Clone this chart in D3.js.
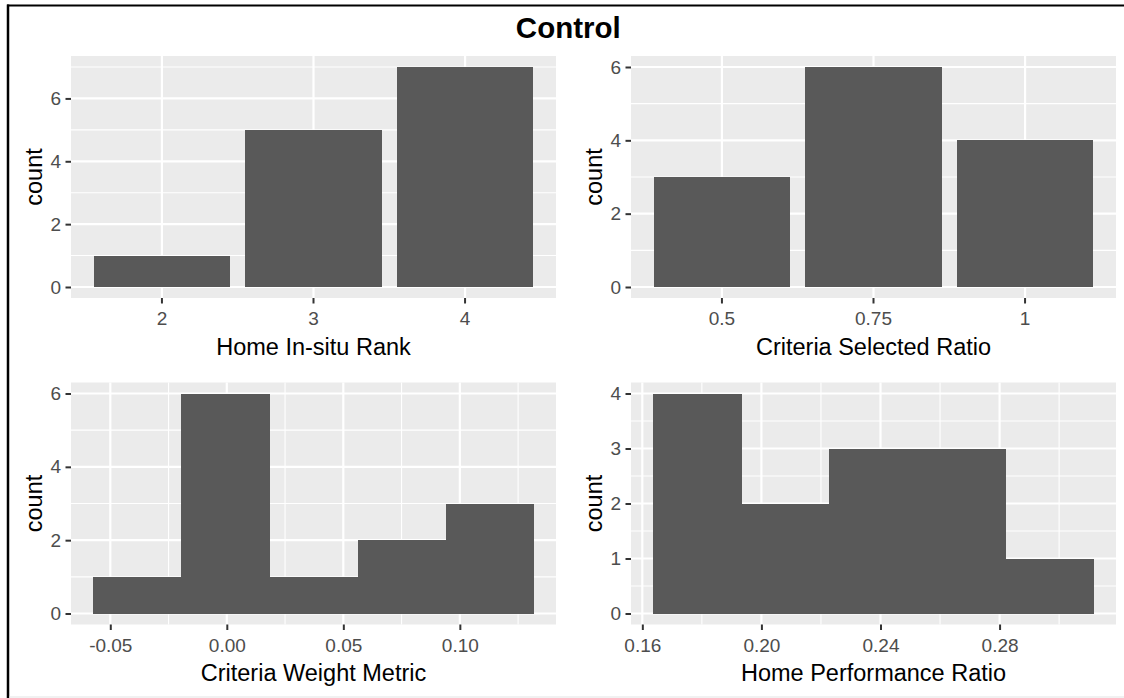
<!DOCTYPE html>
<html>
<head>
<meta charset="utf-8">
<script src="https://cdn.jsdelivr.net/npm/d3@7"></script>
<style>
  body { margin: 0; background: #fff; }
  svg { display: block; font-family: "Liberation Sans", Arial, sans-serif; }
</style>
</head>
<body>
<div id="chart"></div>
<script>
////////////////////////////////////////////////////////////////////////
// Data

let title = "Control";

// top left: bar chart of a discrete value
let rankCats = ["2", "3", "4"];
let rankCounts = [1, 5, 7];

// top right: bar chart of a discrete value
let selectedCats = ["0.5", "0.75", "1"];
let selectedCounts = [3, 6, 4];

// bottom left: histogram, bin edges and counts
let weightEdges = [-0.0574, -0.0196, 0.0183, 0.0561, 0.0939, 0.1318];
let weightCounts = [1, 6, 1, 2, 3];
let weightTicks = [-0.05, 0, 0.05, 0.10];
let weightTickLabels = ["-0.05", "0.00", "0.05", "0.10"];

// bottom right: histogram, bin edges and counts
let perfEdges = [0.1636, 0.1932, 0.2228, 0.2525, 0.2821, 0.3117];
let perfCounts = [4, 2, 3, 3, 1];
let perfTicks = [0.16, 0.20, 0.24, 0.28];
let perfTickLabels = ["0.16", "0.20", "0.24", "0.28"];

let countTicksA = [0, 2, 4, 6];
let countTicksB = [0, 1, 2, 3, 4];

////////////////////////////////////////////////////////////////////////
// Layout

let width = 1124;
let height = 698;
let panelW = 485;
let panelH = 242;
let colX = [71, 631];
let rowY = [56, 382.5];

let bg = "#EBEBEB";
let barFill = "#595959";
let tickFont = 19;
let titleFont = 23.5;

let svg = d3.select("#chart")
  .append("svg")
  .attr("width", width)
  .attr("height", height);

svg.append("rect")
  .attr("width", width).attr("height", height)
  .attr("fill", "#fff");

// frame round the picture (left and top black, bottom faint)
svg.append("line")
  .attr("x1", 8).attr("x2", 8).attr("y1", 4.5).attr("y2", height)
  .attr("stroke", "#000").attr("stroke-width", 2.5);
svg.append("line")
  .attr("x1", 7).attr("x2", width).attr("y1", 5.5).attr("y2", 5.5)
  .attr("stroke", "#000").attr("stroke-width", 2);
svg.append("line")
  .attr("x1", 9).attr("x2", width).attr("y1", 697).attr("y2", 697)
  .attr("stroke", "#e3e3e3").attr("stroke-width", 1);

svg.append("text")
  .attr("x", 568.3)
  .attr("y", 38.3)
  .attr("text-anchor", "middle")
  .style("font-weight", "bold")
  .style("font-size", "29.5px")
  .attr("fill", "#000")
  .text(title);

// midpoints between major ticks, plus one past each end if inside the domain
function minorTicks(ticks, domain) {
  let step = ticks[1] - ticks[0];
  let out = [];
  let first = ticks[0] - step / 2;
  if (first >= domain[0]) out.push(first);
  for (let i = 0; i < ticks.length - 1; i++) out.push((ticks[i] + ticks[i + 1]) / 2);
  let last = ticks[ticks.length - 1] + step / 2;
  if (last <= domain[1]) out.push(last);
  return out;
}

function styleAxis(g) {
  g.select(".domain").remove();
  g.selectAll(".tick line").attr("stroke", "#333333").attr("stroke-width", 2);
  g.selectAll(".tick text")
    .attr("fill", "#4D4D4D")
    .style("font-size", tickFont + "px")
    .style("font-family", "'Liberation Sans', Arial, sans-serif");
}

// one ggplot-like panel; cfg.cats for bars, cfg.edges for a histogram
function makePanel(cfg) {
  let g = svg.append("g")
    .attr("transform", `translate(${cfg.x},${cfg.y})`);

  let ymax = d3.max(cfg.counts);
  let yScale = d3.scaleLinear()
    .domain([-0.05 * ymax, 1.05 * ymax])
    .range([panelH, 0]);

  let xScale, xMajor, xMinor;
  if (cfg.cats) {
    xScale = d3.scaleBand()
      .domain(cfg.cats)
      .range([0, panelW])
      .paddingInner(0.1)
      .paddingOuter(0.15);
    xMajor = cfg.cats.map(c => xScale(c) + xScale.bandwidth() / 2);
    xMinor = [];
  } else {
    let lo = cfg.edges[0];
    let hi = cfg.edges[cfg.edges.length - 1];
    let pad = (hi - lo) * 0.05;
    xScale = d3.scaleLinear()
      .domain([lo - pad, hi + pad])
      .range([0, panelW]);
    xMajor = cfg.xTicks.map(v => xScale(v));
    xMinor = minorTicks(cfg.xTicks, xScale.domain()).map(v => xScale(v));
  }
  let yMinor = minorTicks(cfg.yTicks, yScale.domain());

  g.append("rect")
    .attr("width", panelW).attr("height", panelH)
    .attr("fill", bg);

  // minor grid
  g.selectAll(".ymin").data(yMinor).enter().append("line")
    .attr("x1", 0).attr("x2", panelW)
    .attr("y1", d => yScale(d)).attr("y2", d => yScale(d))
    .attr("stroke", "#fff").attr("stroke-width", 1.1);
  g.selectAll(".xmin").data(xMinor).enter().append("line")
    .attr("x1", d => d).attr("x2", d => d)
    .attr("y1", 0).attr("y2", panelH)
    .attr("stroke", "#fff").attr("stroke-width", 1.1);

  // major grid
  g.selectAll(".ymaj").data(cfg.yTicks).enter().append("line")
    .attr("x1", 0).attr("x2", panelW)
    .attr("y1", d => yScale(d)).attr("y2", d => yScale(d))
    .attr("stroke", "#fff").attr("stroke-width", 2.2);
  g.selectAll(".xmaj").data(xMajor).enter().append("line")
    .attr("x1", d => d).attr("x2", d => d)
    .attr("y1", 0).attr("y2", panelH)
    .attr("stroke", "#fff").attr("stroke-width", 2.2);

  // bars (crisp edges so adjacent histogram bins show no seam)
  let bars = g.append("g").attr("shape-rendering", "crispEdges");
  if (cfg.cats) {
    bars.selectAll("rect").data(cfg.cats).enter().append("rect")
      .attr("x", d => xScale(d))
      .attr("width", xScale.bandwidth())
      .attr("y", (d, i) => yScale(cfg.counts[i]))
      .attr("height", (d, i) => yScale(0) - yScale(cfg.counts[i]))
      .attr("fill", barFill);
  } else {
    bars.selectAll("rect").data(cfg.counts).enter().append("rect")
      .attr("x", (d, i) => xScale(cfg.edges[i]))
      .attr("width", (d, i) => xScale(cfg.edges[i + 1]) - xScale(cfg.edges[i]) + 0.5)
      .attr("y", d => yScale(d))
      .attr("height", d => yScale(0) - yScale(d))
      .attr("fill", barFill);
  }

  // axes
  let xAxis = d3.axisBottom(xScale).tickSize(5.5).tickPadding(8.5);
  if (!cfg.cats) {
    xAxis.tickValues(cfg.xTicks)
      .tickFormat((d, i) => cfg.xTickLabels[i]);
  }
  g.append("g")
    .attr("transform", `translate(0,${panelH})`)
    .call(xAxis)
    .call(styleAxis);

  g.append("g")
    .call(d3.axisLeft(yScale)
      .tickValues(cfg.yTicks)
      .tickFormat(d3.format("d"))
      .tickSize(5.5)
      .tickPadding(4.5))
    .call(styleAxis);

  // axis titles
  g.append("text")
    .attr("x", panelW / 2)
    .attr("y", panelH + 56.5)
    .attr("text-anchor", "middle")
    .style("font-size", titleFont + "px")
    .attr("fill", "#000")
    .text(cfg.xTitle);

  g.append("text")
    .attr("transform", `translate(-29,${panelH / 2}) rotate(-90)`)
    .attr("text-anchor", "middle")
    .style("font-size", titleFont + "px")
    .attr("fill", "#000")
    .text("count");
}

////////////////////////////////////////////////////////////////////////
// Setup panels

makePanel({
  x: colX[0], y: rowY[0],
  cats: rankCats, counts: rankCounts,
  yTicks: countTicksA, xTitle: "Home In-situ Rank"
});
makePanel({
  x: colX[1], y: rowY[0],
  cats: selectedCats, counts: selectedCounts,
  yTicks: countTicksA, xTitle: "Criteria Selected Ratio"
});
makePanel({
  x: colX[0], y: rowY[1],
  edges: weightEdges, counts: weightCounts,
  xTicks: weightTicks, xTickLabels: weightTickLabels,
  yTicks: countTicksA, xTitle: "Criteria Weight Metric"
});
makePanel({
  x: colX[1], y: rowY[1],
  edges: perfEdges, counts: perfCounts,
  xTicks: perfTicks, xTickLabels: perfTickLabels,
  yTicks: countTicksB, xTitle: "Home Performance Ratio"
});
</script>
</body>
</html>
